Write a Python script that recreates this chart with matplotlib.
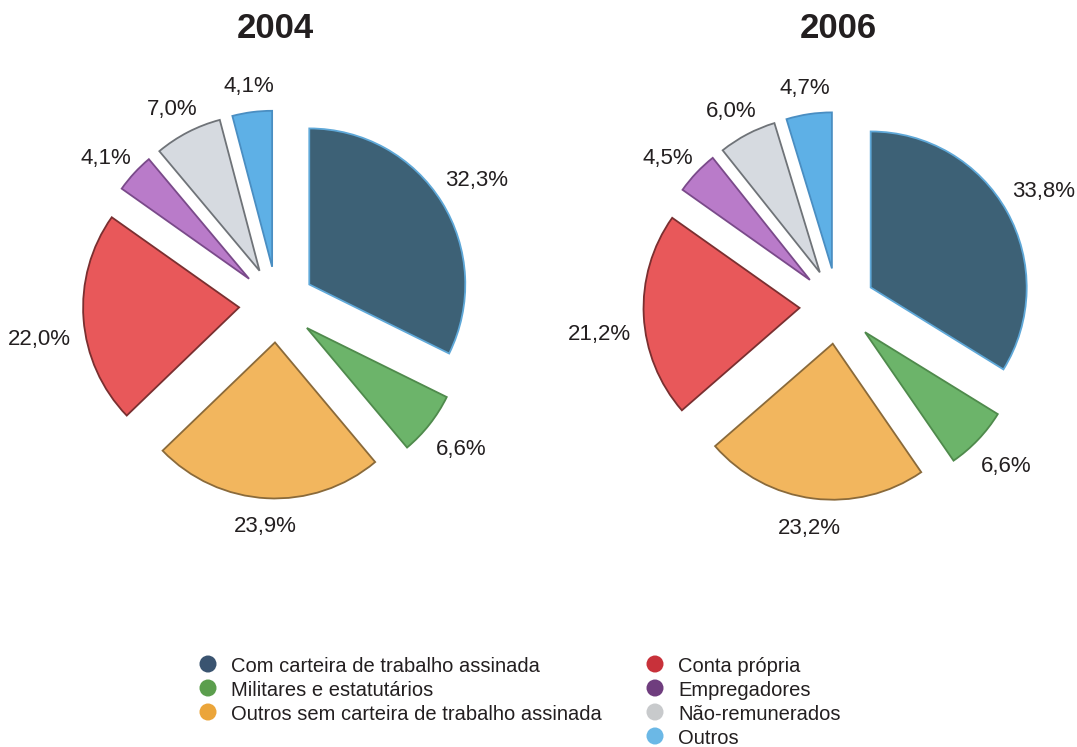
import numpy as np
import matplotlib
matplotlib.use("Agg")
import matplotlib.pyplot as plt

plt.rcParams['font.family'] = ['Liberation Sans', 'DejaVu Sans']

categories = ["Com carteira de trabalho assinada", "Militares e estatutários",
              "Outros sem carteira de trabalho assinada", "Conta própria",
              "Empregadores", "Não-remunerados", "Outros"]
years = ["2004", "2006"]
values_2004 = [32.3, 6.6, 23.9, 22.0, 4.1, 7.0, 4.1]
values_2006 = [33.8, 6.6, 23.2, 21.2, 4.5, 6.0, 4.7]
labels_2004 = ["32,3%", "6,6%", "23,9%", "22,0%", "4,1%", "7,0%", "4,1%"]
labels_2006 = ["33,8%", "6,6%", "23,2%", "21,2%", "4,5%", "6,0%", "4,7%"]

slice_colors = ["#3d6176", "#6cb46a", "#f2b65e", "#e8585a", "#b97bc9", "#d6dae0", "#5eb0e6"]
edge_colors = ["#5fa8d8", "#4f8a4c", "#8a6a3a", "#7a2f30", "#7a4a8a", "#6f7378", "#4a8ec2"]
legend_colors = ["#3a5470", "#5b9e4d", "#eba53a", "#c8313a", "#6f3d7e", "#c8cacc", "#6bb8e6"]

W, H = 1077, 747
fig = plt.figure(figsize=(W / 100, H / 100), dpi=100)
ax = fig.add_axes([0, 0, 1, 1])
ax.set_xlim(0, W)
ax.set_ylim(0, H)
ax.axis('off')

R = 156
centers = [(277, H - 304.5), (837.5, H - 306)]
title_x = [275, 838]
text_color = "#231f20"

for vals, labs, (cx, cy), year, tx in zip([values_2004, values_2006],
                                           [labels_2004, labels_2006],
                                           centers, years, title_x):
    ax.pie(vals, explode=[38] * len(vals), center=(cx, cy), radius=R,
           startangle=90, counterclock=False, colors=slice_colors,
           wedgeprops=dict(linewidth=1.3), frame=True)
    for w, ec in zip(ax.patches[-len(vals):], edge_colors):
        w.set_edgecolor(ec)
    fr = np.array(vals) / np.sum(vals)
    cum = np.cumsum(fr)
    mid = (cum - fr / 2) * 2 * np.pi  # clockwise from top
    for lab, th in zip(labs, mid):
        s = np.sin(th)
        d = 220 + 18 * abs(s)
        dy = 17 * max(0.0, -s)
        ax.text(cx + d * s, cy + d * np.cos(th) - dy, lab,
                ha='center', va='center', fontsize=16, color=text_color)
    ax.text(tx, H - 29, year, ha='center', va='center', fontsize=25,
            fontweight='bold', color=text_color)

ax.set_xlim(0, W)
ax.set_ylim(0, H)
ax.set_aspect('auto')

# legend
col_x = [208, 655]
row_y = [664, 688, 712, 736]
for i, (name, c) in enumerate(zip(categories, legend_colors)):
    col = 0 if i < 3 else 1
    row = i if i < 3 else i - 3
    ax.scatter([col_x[col]], [H - row_y[row]], s=150, color=c, edgecolors='none')
    ax.text(col_x[col] + 23, H - row_y[row], name, ha='left', va='center_baseline',
            fontsize=14.5, color=text_color)

fig.savefig("out.png", dpi=100)
